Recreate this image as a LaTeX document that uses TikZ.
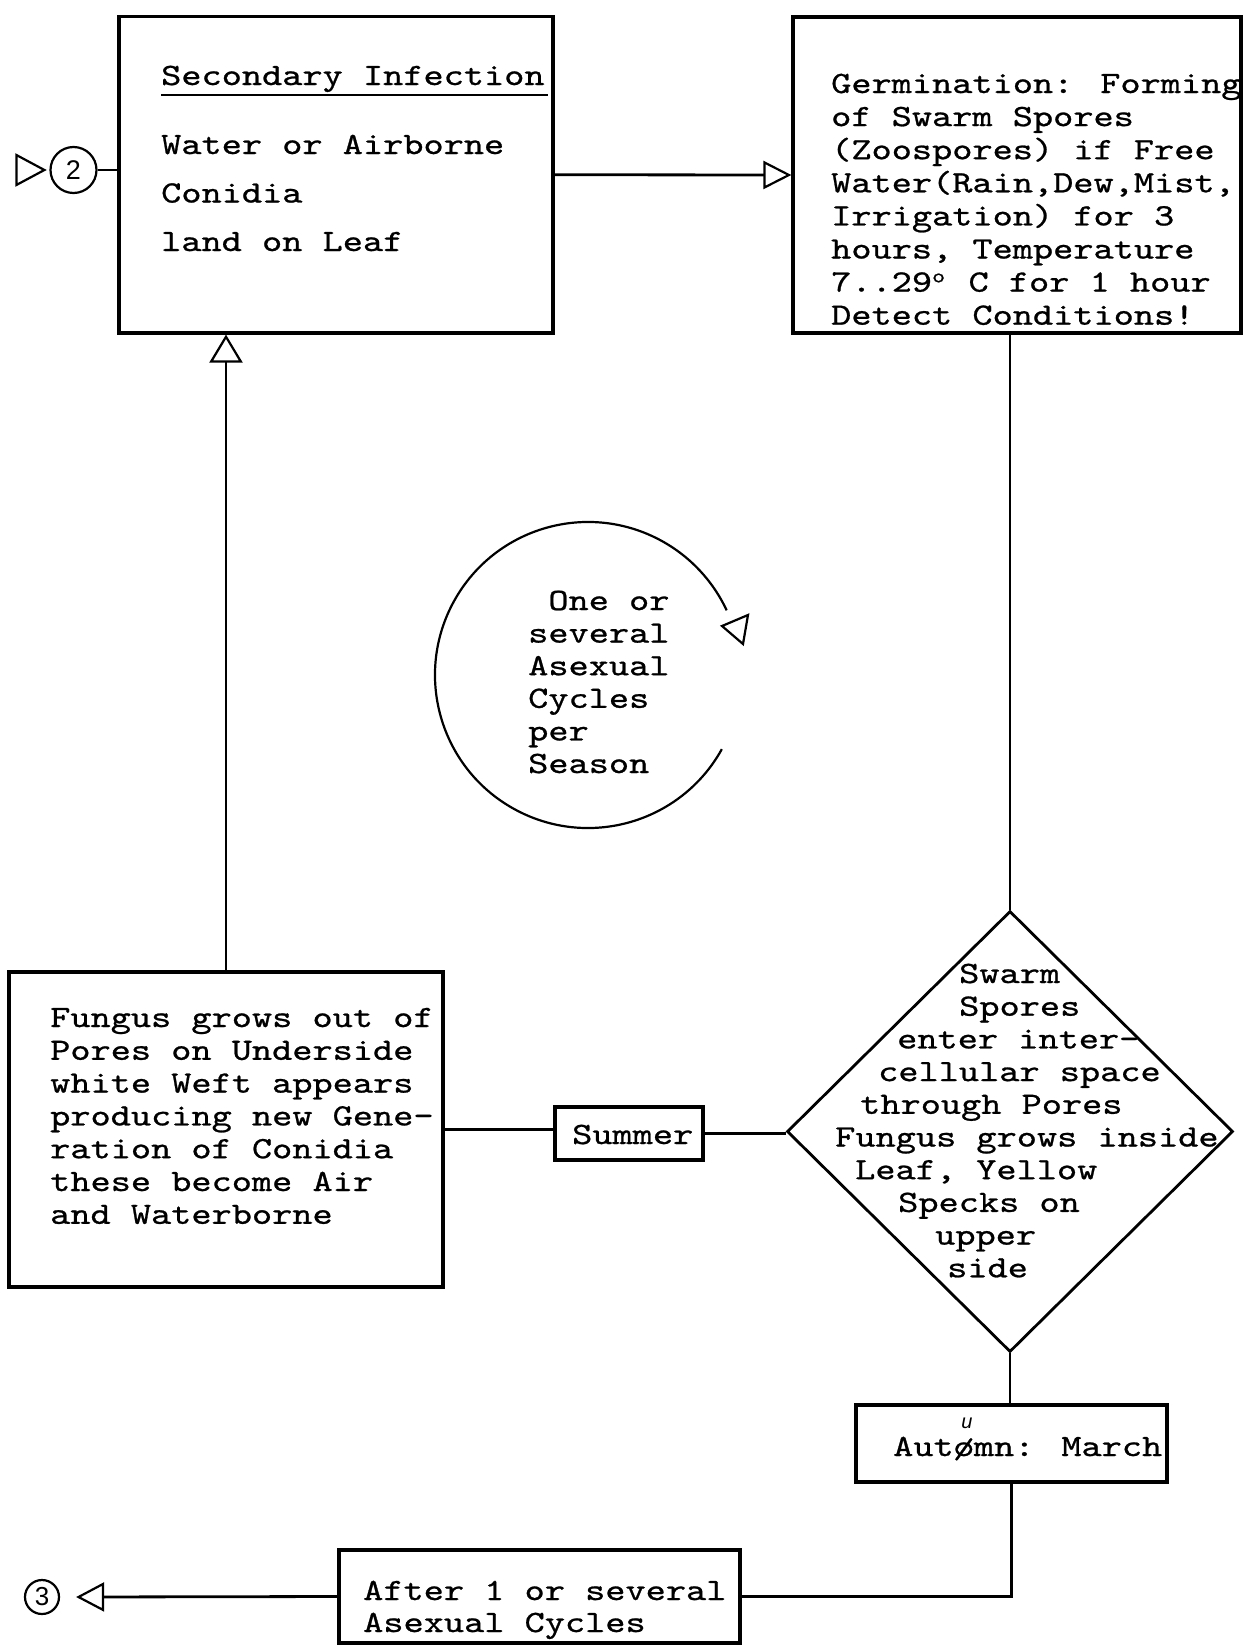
\documentclass[tikz,border=0pt]{standalone}
\usepackage{fontspec}
\usetikzlibrary{shapes.geometric,arrows.meta}
\newfontfamily\tw{lmmono10-regular}[Extension=.otf, FakeStretch=1.24, FakeBold=0.8]
\newfontfamily\hand{Liberation Sans}
\newcommand\txtlines[2]{\vtop{\baselineskip=#1\relax\lineskiplimit=-\maxdimen\lineskip=0pt\halign{##\hfil\cr#2\crcr}}}
\newcommand\supo{\raisebox{0.3em}{\makebox[0.525em][l]{\fontsize{20}{20}\selectfont o}}}
\tikzset{
  box/.style={draw, line width=3.2pt, rectangle, inner sep=0pt},
  conn/.style={line width=2.8pt},
  tri/.style={line width=2.2pt, line join=miter},
  txt/.style={inner sep=0pt, anchor=base west, font={\tw\fontsize{31}{33}\selectfont}},
  ring/.style={draw, circle, line width=2.2pt, inner sep=0pt},
  opentip/.style={-{Triangle[open, length=28pt, width=#1, line width=2.2pt]}},
}
\begin{document}
\begin{tikzpicture}[x=1pt, y=-1pt]
\useasboundingbox (0,0) rectangle (1243,1646);
\fill[white] (0,0) rectangle (1243,1646);

% boxes
\node[box, minimum width=434pt, minimum height=316.5pt] (b1) at (336,174.75) {};
\node[box, minimum width=448pt, minimum height=316pt] (b2) at (1017,175) {};
\node[box, minimum width=434pt, minimum height=315pt] (b3) at (226,1129.5) {};
\node[box, minimum width=148pt, minimum height=53pt] (sum) at (629,1133.5) {};
\node[draw, diamond, line width=2.8pt, inner sep=0pt, minimum width=446pt, minimum height=441pt] (dia) at (1010,1131.5) {};
\node[box, minimum width=311pt, minimum height=77pt] (aut) at (1011.5,1443.5) {};
\node[box, minimum width=401pt, minimum height=93pt] (aft) at (539.5,1596.5) {};

% off-page connectors
\node[ring, minimum size=46pt, font={\hand\fontsize{27}{27}\selectfont}] (c2) at (73.5,170) {2};
\node[ring, minimum size=34pt, font={\hand\fontsize{26}{26}\selectfont}] (c3) at (42,1597) {3};
\draw[tri] ([xshift=-5pt]c2.west) -- ++(-28,-15) -- ++(0,30) -- cycle;

% texts
\node[txt] (hdr) at (161,85) {Secondary Infection};
\draw[line width=2.2pt] ([yshift=-10pt]hdr.base west) -- ([yshift=-10pt, xshift=3pt]hdr.base east);
\node[txt] (t1) at (161,154) {\txtlines{48.5pt}{Water or Airborne\cr Conidia\cr land on Leaf}};
\node[txt] (t2) at (831,93) {\txtlines{33.1pt}{Germination: Forming\cr of Swarm Spores\cr (Zoospores) if Free\cr Water(Rain,Dew,Mist,\cr Irrigation) for 3\cr hours, Temperature\cr 7..29\supo\ C for 1 hour\cr Detect Conditions!}};
\node[txt] (t3) at (50,1027) {\txtlines{32.8pt}{Fungus grows out of\cr Pores on Underside\cr white Weft appears\cr producing new Gene-\cr ration of Conidia\cr these become Air\cr and Waterborne}};
\node[txt] (t4) at (835,983) {\txtlines{32.7pt}{\hspace*{124pt}Swarm\cr \hspace*{124pt}Spores\cr \hspace*{62pt}enter inter-\cr \hspace*{43pt}cellular space\cr \hspace*{25pt}through Pores\cr Fungus grows inside\cr \hspace*{20pt}Leaf, Yellow\cr \hspace*{63pt}Specks on\cr \hspace*{100pt}upper\cr \hspace*{112pt}side}};
\node[txt] (t5) at (572,1144) {Summer};
\node[txt] (t6) at (893,1456) {Autømn: March};
\node[inner sep=0pt, font={\hand\itshape\fontsize{20}{20}\selectfont}] (ucorr) at (967,1423) {u};
\node[txt] (t7) at (363,1600) {\txtlines{32pt}{After 1 or several\cr Asexual Cycles}};
\node[txt] (t8) at (528,610) {\txtlines{32.6pt}{\ One or\cr several\cr Asexual\cr Cycles\cr per\cr Season}};

% cycle symbol
\draw[line width=2.2pt] (588,675) ++(29:153) arc[start angle=29, end angle=335, radius=153];
\draw[tri] (722,626) -- (748,615) -- (743,644) -- cycle;

% connectors
\draw[conn] (c2.east) -- (c2.east -| b1.west);
\draw[conn, opentip=28pt] (b1.east) -- (b2.west);
\draw[conn, opentip=33pt] (b3.north) -- (b3.north |- b1.south);
\draw[conn] (dia.north |- b2.south) -- (dia.north);
\draw[conn] (b3.east) -- (b3.east -| sum.west);
\draw[conn] (sum.east) -- (sum.east -| dia.west);
\draw[conn] (dia.south) -- (dia.south |- aut.north);
\draw[conn] (aut.south) |- (aft.east);
\draw[conn, opentip=29pt] (aft.west) -- ([xshift=16pt]c3.east);
\end{tikzpicture}
\end{document}
